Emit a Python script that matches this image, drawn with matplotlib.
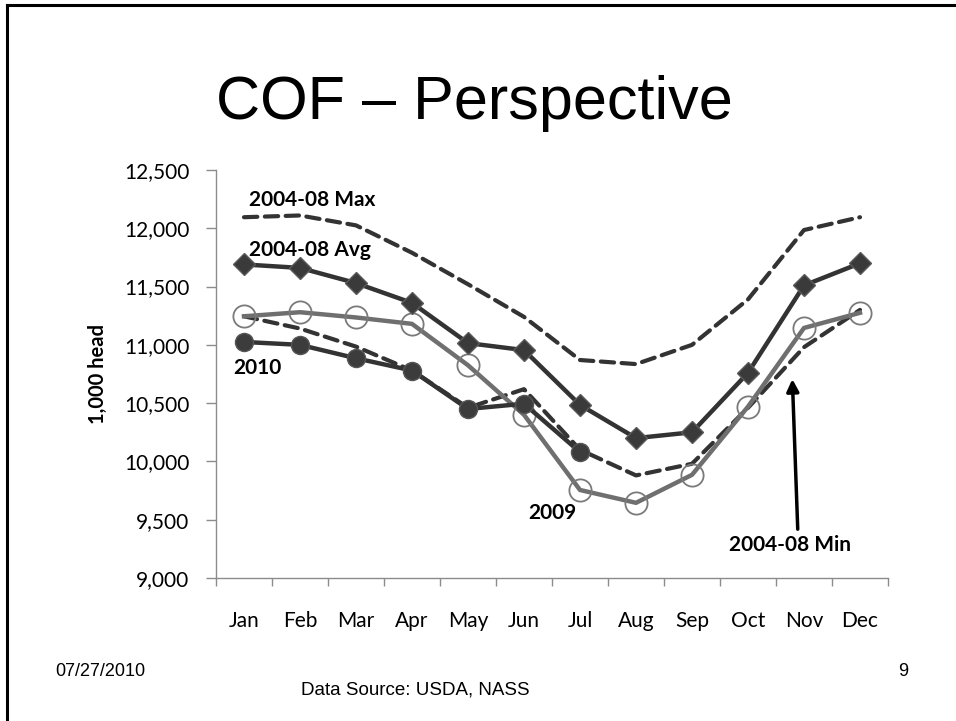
import matplotlib
matplotlib.use("Agg")
import matplotlib.pyplot as plt
from matplotlib.lines import Line2D

# 数据 (千头)
months = ['Jan', 'Feb', 'Mar', 'Apr', 'May', 'Jun', 'Jul', 'Aug', 'Sep', 'Oct', 'Nov', 'Dec']
max_0408 = [12095, 12110, 12025, 11790, 11520, 11240, 10870, 10835, 11000, 11390, 11985, 12095]
avg_0408 = [11690, 11660, 11530, 11360, 11015, 10955, 10485, 10200, 10250, 10760, 11510, 11700]
min_0408 = [11245, 11140, 10985, 10780, 10460, 10620, 10100, 9880, 9980, 10460, 10980, 11300]
cof_2009 = [11245, 11280, 11235, 11180, 10825, 10400, 9755, 9645, 9885, 10470, 11145, 11275]
cof_2010 = [11025, 11000, 10885, 10780, 10450, 10495, 10080]
y_ticks = [9000, 9500, 10000, 10500, 11000, 11500, 12000, 12500]

font = 'Lato'
dark = '#333333'

fig = plt.figure(figsize=(9.56, 7.21), dpi=100)
fig.patch.set_facecolor('white')

# 幻灯片边框 (只有上边和左边可见)
fig.add_artist(Line2D([7 / 956, 7 / 956], [0, 1 - 5 / 721], color='black', lw=2.2,
                      transform=fig.transFigure))
fig.add_artist(Line2D([7 / 956, 1], [1 - 5 / 721, 1 - 5 / 721], color='black', lw=2.2,
                      transform=fig.transFigure))

ax = fig.add_axes([216 / 956, 1 - 578 / 721, 672 / 956, 408 / 721])
x = list(range(len(months)))

ax.plot(x, max_0408, color=dark, lw=3.0, dashes=(3.2, 1.8), dash_capstyle='round', zorder=2)
ax.plot(x, min_0408, color=dark, lw=3.0, dashes=(3.2, 1.8), dash_capstyle='round', zorder=2)
ax.plot(x, avg_0408, color=dark, lw=3.2, marker='D', ms=11, mfc='#3a3a3a', mec='#5a5a5a',
        mew=1.0, zorder=4)
ax.plot(x[:len(cof_2010)], cof_2010, color=dark, lw=3.2, marker='o', ms=13, mfc='#3c3c3c',
        mec='#555555', mew=1.0, zorder=5)
ax.plot(x, cof_2009, color='#6f6f6f', lw=3.2, marker='o', ms=16, mfc='none', mec='#7a7a7a',
        mew=1.3, zorder=3)

ax.set_xlim(-0.5, 11.5)
ax.set_ylim(9000, 12500)

# 坐标轴样式
for side in ['top', 'right']:
    ax.spines[side].set_visible(False)
for side in ['left', 'bottom']:
    ax.spines[side].set_color('#8c8c8c')
    ax.spines[side].set_linewidth(1.0)

ax.set_yticks(y_ticks)
ax.set_yticklabels([f'{v:,}' for v in y_ticks], fontfamily=font, fontsize=15)
ax.tick_params(axis='y', length=7, width=1.0, color='#8c8c8c', pad=12, labelcolor='black')

ax.set_xticks([i - 0.5 for i in range(13)])
ax.set_xticklabels([])
ax.set_xticks(x, minor=True)
ax.set_xticklabels(months, minor=True, fontfamily=font, fontsize=15)
ax.tick_params(axis='x', which='major', length=6, width=1.0, color='#8c8c8c')
ax.tick_params(axis='x', which='minor', length=0, pad=24, labelcolor='black')

ax.set_ylabel('1,000 head', fontfamily=font, fontsize=14.5, fontweight='bold', labelpad=12)

# 系列标注
lab = dict(fontfamily=font, fontsize=15, fontweight='bold', color='black')
ax.text(0.09, 12245, '2004-08 Max', ha='left', va='center', **lab)
ax.text(0.09, 11815, '2004-08 Avg', ha='left', va='center', **lab)
ax.text(-0.2, 10800, '2010', ha='left', va='center', **lab)
ax.text(5.5, 9560, '2009', ha='center', va='center', **lab)
ax.text(9.75, 9285, '2004-08 Min', ha='center', va='center', **lab)
ax.annotate('', xy=(9.79, 10730), xytext=(9.89, 9395),
            arrowprops=dict(arrowstyle='-|>', color='black', lw=2.5, mutation_scale=18))

# 标题与页脚
fig.text(0.496, 1 - 104 / 721, 'COF – Perspective', ha='center', va='center',
         fontfamily='Liberation Sans', fontsize=44)
fig.text(55 / 956, 1 - 672 / 721, '07/27/2010', ha='left', va='center',
         fontfamily='Liberation Sans', fontsize=13)
fig.text(415 / 956, 1 - 690 / 721, 'Data Source: USDA, NASS', ha='center', va='center',
         fontfamily='Liberation Sans', fontsize=13.5)
fig.text(903 / 956, 1 - 672 / 721, '9', ha='center', va='center',
         fontfamily='Liberation Sans', fontsize=13)

fig.savefig('out.png', dpi=100, facecolor='white')
plt.close(fig)
